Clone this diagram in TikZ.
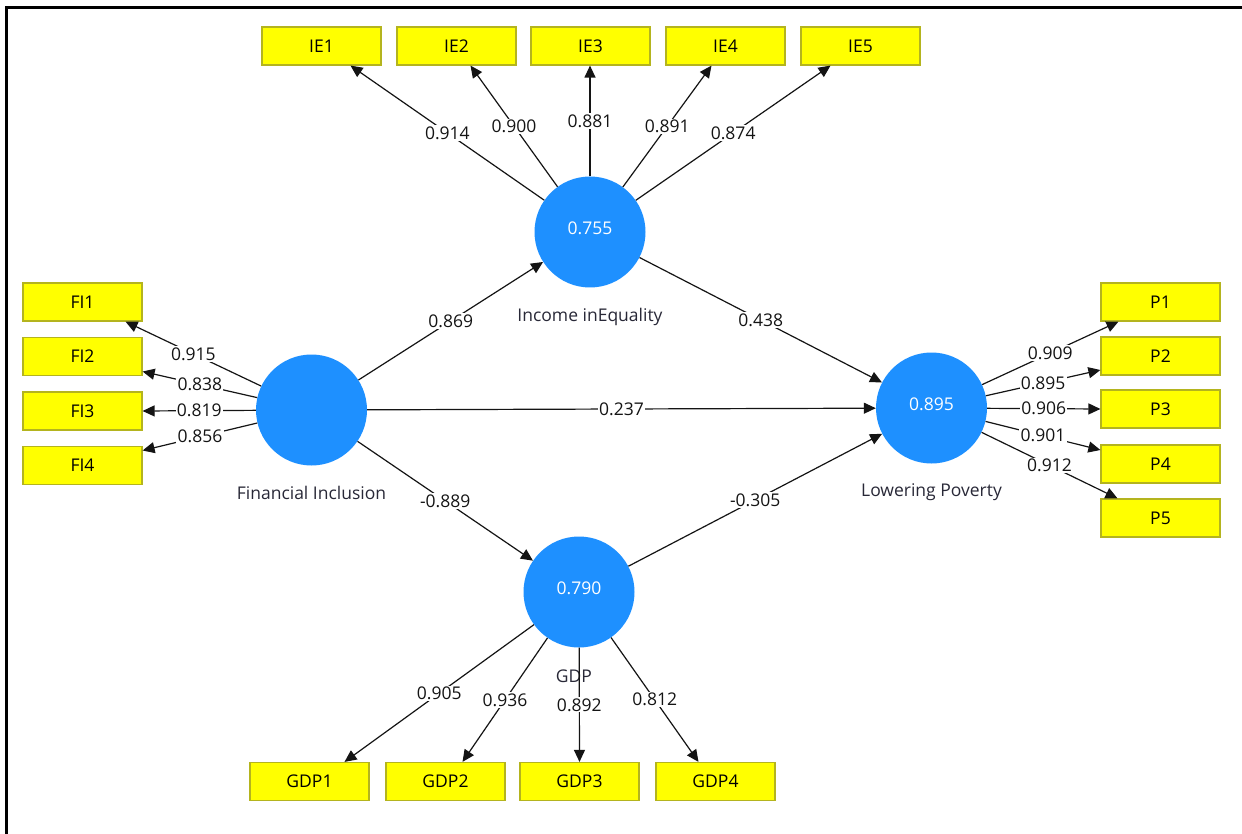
\documentclass[tikz,border=0pt]{standalone}
\usepackage{fontspec}
\setmainfont{Open Sans}
\usetikzlibrary{arrows.meta}
\definecolor{lvblue}{RGB}{30,144,255}
\definecolor{boxyellow}{RGB}{255,255,0}
\definecolor{boxedge}{RGB}{180,180,30}
\definecolor{ink}{RGB}{20,20,20}
\definecolor{nametext}{RGB}{40,40,55}
\begin{document}
\begin{tikzpicture}[x=1pt,y=-1pt,
  lv/.style={circle, fill=lvblue, minimum size=111pt, inner sep=0pt, text=white,
    font=\fontsize{17.5}{20}\selectfont, text depth=8pt},
  ind/.style={rectangle, fill=boxyellow, draw=boxedge, line width=1.2pt,
    minimum width=119pt, minimum height=38pt, inner sep=0pt, text=black,
    font=\fontsize{17.5}{20}\selectfont},
  lvname/.style={text=nametext, font=\fontsize{17.5}{20}\selectfont, inner sep=0pt},
  lbl/.style={fill=white, inner sep=1.2pt, text=ink, font=\fontsize{17.5}{20}\selectfont, pos=0.5},
  arr/.style={draw=ink, line width=1.2pt, -{Triangle[length=12pt,width=11pt]}},
  frame/.style={draw=black, line width=2.6pt, line join=miter}
]
\useasboundingbox (0,0) rectangle (1242,834);
\fill[white] (0,0) rectangle (1242,834);
\draw[frame] (6.5,840) -- (6.5,7.5) -- (1250,7.5);

% latent variables
\node[lv] (ie)  at (590,232)   {0.755};
\node[lv] (fi)  at (311.5,410) {};
\node[lv] (lp)  at (931.5,408) {0.895};
\node[lv] (gdp) at (579,592)   {0.790};

\node[lvname] (iename)  at ([yshift=-85pt]ie.center)  {Income inEquality};
\node[lvname] (finame)  at ([yshift=-83pt]fi.center)  {Financial Inclusion};
\node[lvname] (lpname)  at ([yshift=-84pt]lp.center)  {Lowering Poverty};
\node[lvname] (gdpname) at ([xshift=-5pt,yshift=-84pt]gdp.center) {GDP};

% indicators
\node[ind] (ie1) at (321.5,46) {IE1};
\node[ind] (ie2) at (456.5,46) {IE2};
\node[ind] (ie3) at (590.5,46) {IE3};
\node[ind] (ie4) at (725.5,46) {IE4};
\node[ind] (ie5) at (860.5,46) {IE5};

\node[ind] (fi1) at (82.5,302)   {FI1};
\node[ind] (fi2) at (82.5,356.5) {FI2};
\node[ind] (fi3) at (82.5,411)   {FI3};
\node[ind] (fi4) at (82.5,465.5) {FI4};

\node[ind] (p1) at (1160.5,302) {P1};
\node[ind] (p2) at (1160.5,356) {P2};
\node[ind] (p3) at (1160.5,409) {P3};
\node[ind] (p4) at (1160.5,464) {P4};
\node[ind] (p5) at (1160.5,518) {P5};

\node[ind] (gdp1) at (309.5,781.5) {GDP1};
\node[ind] (gdp2) at (445.5,781.5) {GDP2};
\node[ind] (gdp3) at (579.5,781.5) {GDP3};
\node[ind] (gdp4) at (715.5,781.5) {GDP4};

% outer loadings: Income inEquality
\draw[arr] (ie) -- node[lbl]{0.914} ([xshift=29pt]ie1.south);
\draw[arr] (ie) -- node[lbl]{0.900} ([xshift=14pt]ie2.south);
\draw[arr] (ie) -- node[lbl]{0.881} ([xshift=-0.5pt]ie3.south);
\draw[arr] (ie) -- node[lbl]{0.891} ([xshift=-14pt]ie4.south);
\draw[arr] (ie) -- node[lbl]{0.874} ([xshift=-30pt]ie5.south);

% Financial Inclusion
\draw[arr] (fi) -- node[lbl]{0.915} ([xshift=43pt]fi1.south);
\draw[arr] (fi) -- node[lbl]{0.838} ([yshift=-15pt]fi2.east);
\draw[arr] (fi) -- node[lbl]{0.819} (fi3.east);
\draw[arr] (fi) -- node[lbl]{0.856} ([yshift=15pt]fi4.east);

% Lowering Poverty
\draw[arr] (lp) -- node[lbl]{0.909} ([xshift=-42pt]p1.south);
\draw[arr] (lp) -- node[lbl]{0.895} ([yshift=-14pt]p2.west);
\draw[arr] (lp) -- node[lbl]{0.906} (p3.west);
\draw[arr] (lp) -- node[lbl]{0.901} ([yshift=14pt]p4.west);
\draw[arr] (lp) -- node[lbl]{0.912} ([xshift=-43pt]p5.north);

% GDP
\draw[arr] (gdp) -- node[lbl]{0.905} ([xshift=35pt]gdp1.north);
\draw[arr] (gdp) -- node[lbl]{0.936} ([xshift=17pt]gdp2.north);
\draw[arr] (gdp) -- node[lbl]{0.892} (gdp3.north);
\draw[arr] (gdp) -- node[lbl]{0.812} ([xshift=-17pt]gdp4.north);

% structural paths
\draw[arr] (fi) -- node[lbl]{0.869} (ie);
\draw[arr] (fi) -- node[lbl]{0.237} (lp);
\draw[arr] (fi) -- node[lbl]{-0.889} (gdp);
\draw[arr] (ie) -- node[lbl]{0.438} (lp);
\draw[arr] (gdp) -- node[lbl]{-0.305} (lp);
\end{tikzpicture}
\end{document}
